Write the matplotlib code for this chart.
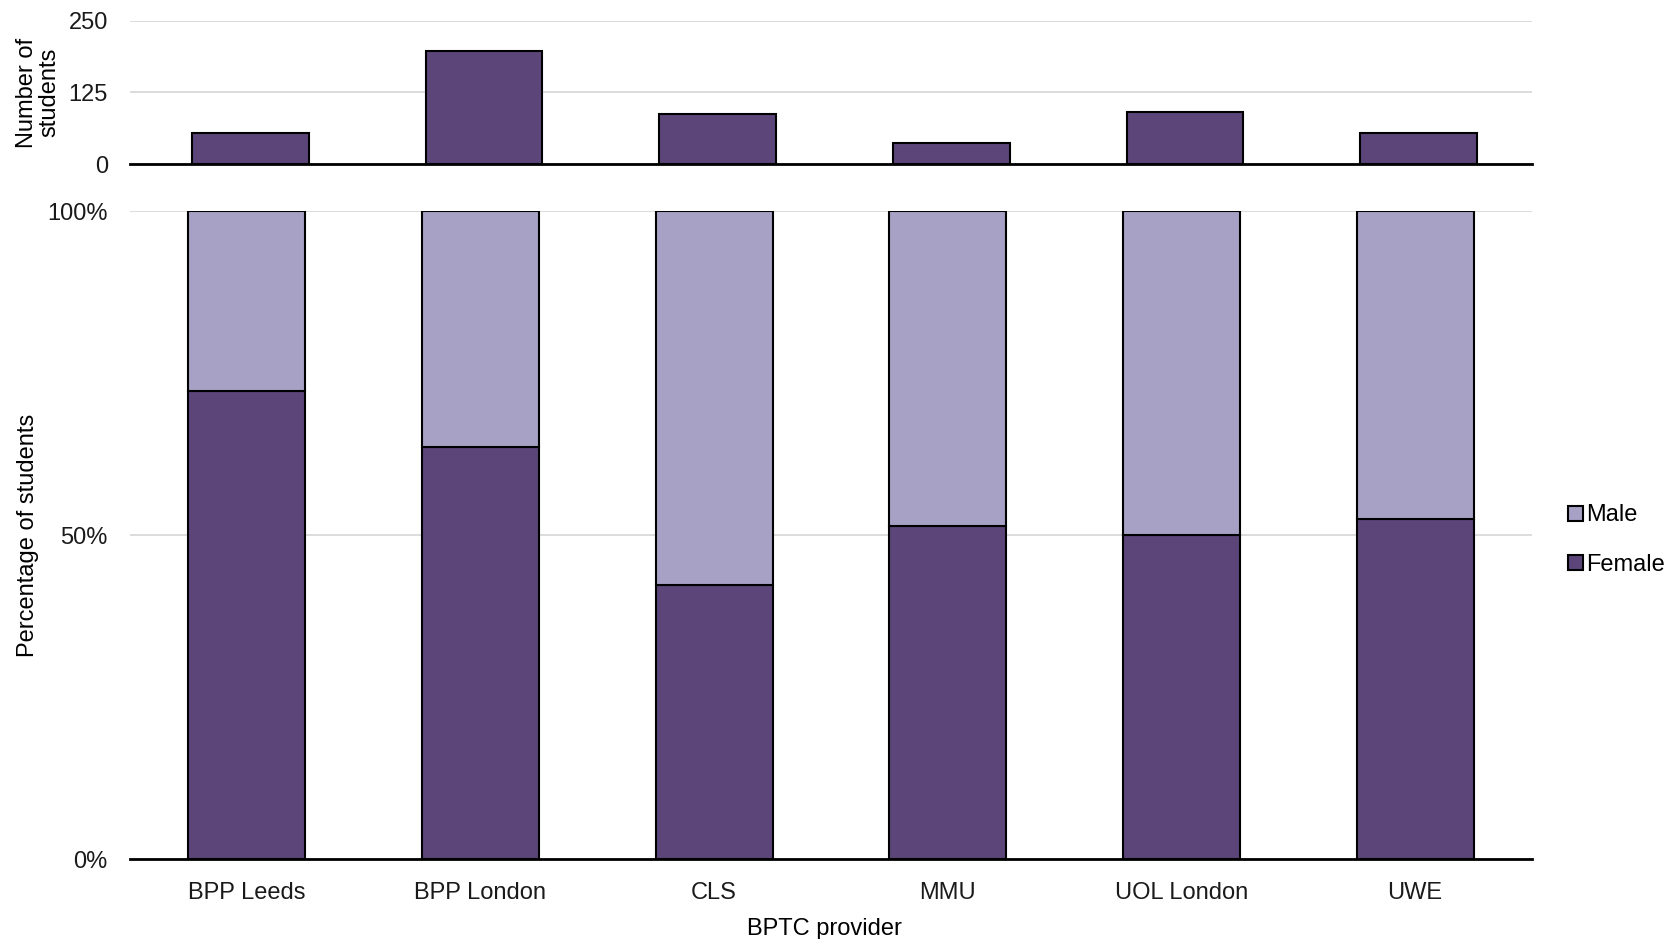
import matplotlib
matplotlib.use("Agg")
import matplotlib.pyplot as plt
from matplotlib.patches import Patch
from matplotlib.ticker import FuncFormatter
import numpy as np

plt.rcParams['font.family'] = ['Liberation Sans', 'DejaVu Sans']

providers = ["BPP Leeds", "BPP London", "CLS", "MMU", "UOL London", "UWE"]
student_counts = [54, 197, 87, 37, 91, 54]
female_pct = [72.2, 63.7, 42.4, 51.5, 50.0, 52.5]
male_pct = [100 - f for f in female_pct]

female_color = "#5C4579"
male_color = "#A7A1C5"
grid_color = "#D9D9D9"
fs = 17

W, H = 1672, 939
fig = plt.figure(figsize=(W / 100, H / 100), dpi=100)

left = 130 / W
right = 1532 / W
ax_top = fig.add_axes([left, 1 - 164.3 / H, right - left, (164.3 - 20.7) / H])
ax_bot = fig.add_axes([left, 1 - 859.3 / H, right - left, (859.3 - 211.3) / H])

x = np.arange(len(providers))
bw = 0.5

# Top panel
ax_top.bar(x, student_counts, width=bw, color=female_color, edgecolor="black", linewidth=1.5, zorder=3)
ax_top.set_ylim(0, 250)
ax_top.set_yticks([0, 125, 250])
ax_top.set_xlim(-0.515, len(providers) - 0.515)
ax_top.set_xticks([])
ax_top.yaxis.grid(True, color=grid_color, linewidth=1.3, zorder=0)
ax_top.set_ylabel("Number of\nstudents", fontsize=fs, linespacing=1.0, labelpad=6)

# Bottom panel
ax_bot.bar(x, female_pct, width=bw, color=female_color, edgecolor="black", linewidth=1.5, zorder=3, label="Female")
ax_bot.bar(x, male_pct, width=bw, bottom=female_pct, color=male_color, edgecolor="black", linewidth=1.5, zorder=3, label="Male")
ax_bot.set_ylim(0, 100)
ax_bot.set_yticks([0, 50, 100])
ax_bot.yaxis.set_major_formatter(FuncFormatter(lambda v, p: f"{int(v)}%"))
ax_bot.set_xlim(-0.5, len(providers) - 0.5)
ax_bot.set_xticks(x)
ax_bot.set_xticklabels(providers)
ax_bot.yaxis.grid(True, color=grid_color, linewidth=1.3, zorder=0)
ax_bot.set_ylabel("Percentage of students", fontsize=fs, labelpad=6)
ax_bot.set_xlabel("BPTC provider", fontsize=fs)
ax_bot.xaxis.set_label_coords(0.495, -0.091)

for ax in (ax_top, ax_bot):
    for s in ("top", "right", "left"):
        ax.spines[s].set_visible(False)
    ax.spines["bottom"].set_linewidth(2)
    ax.spines["bottom"].set_zorder(4)
    ax.tick_params(axis="y", length=0, labelsize=fs, pad=16, colors="#1a1a1a")
    ax.tick_params(axis="x", length=0, labelsize=fs, pad=16, colors="#1a1a1a")
    ax.set_axisbelow(True)

handles = [Patch(facecolor=male_color, edgecolor="black", linewidth=1.5, label="Male"),
           Patch(facecolor=female_color, edgecolor="black", linewidth=1.5, label="Female")]
fig.legend(handles=handles, loc="center left", bbox_to_anchor=(1559 / W, 1 - 540 / H),
           frameon=False, fontsize=fs, handlelength=0.6, handleheight=0.6,
           handletextpad=0.15, labelspacing=1.15, borderaxespad=0)

fig.savefig("out.png", dpi=100)
